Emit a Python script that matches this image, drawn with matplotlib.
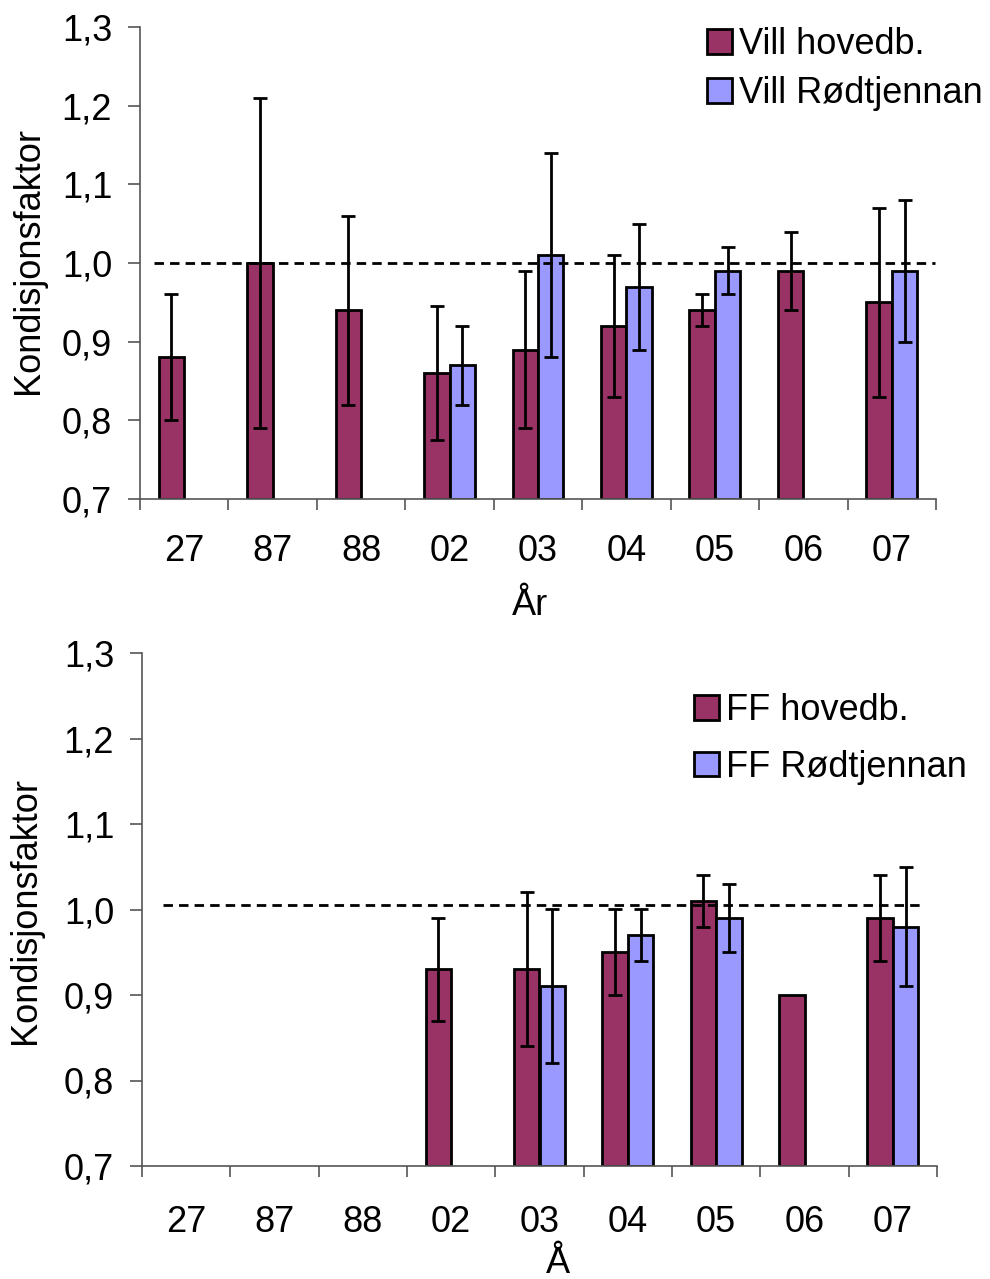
import numpy as np
import matplotlib
matplotlib.use("Agg")
import matplotlib.pyplot as plt
from matplotlib.ticker import FixedLocator, FuncFormatter

plt.rcParams['font.family'] = ['Liberation Sans', 'DejaVu Sans']

nan = np.nan
years = ['27', '87', '88', '02', '03', '04', '05', '06', '07']

# Top panel: wild fish
vill_hoved = [0.88, 1.00, 0.94, 0.86, 0.89, 0.92, 0.94, 0.99, 0.95]
vill_hoved_lo = [0.80, 0.79, 0.82, 0.775, 0.79, 0.83, 0.92, 0.94, 0.83]
vill_hoved_hi = [0.96, 1.21, 1.06, 0.945, 0.99, 1.01, 0.96, 1.04, 1.07]
vill_rodt = [nan, nan, nan, 0.87, 1.01, 0.97, 0.99, nan, 0.99]
vill_rodt_lo = [nan, nan, nan, 0.82, 0.88, 0.89, 0.96, nan, 0.90]
vill_rodt_hi = [nan, nan, nan, 0.92, 1.14, 1.05, 1.02, nan, 1.08]
vill_ref = 1.0

# Bottom panel: FF
ff_hoved = [nan, nan, nan, 0.93, 0.93, 0.95, 1.01, 0.90, 0.99]
ff_hoved_lo = [nan, nan, nan, 0.87, 0.84, 0.90, 0.98, nan, 0.94]
ff_hoved_hi = [nan, nan, nan, 0.99, 1.02, 1.00, 1.04, nan, 1.04]
ff_rodt = [nan, nan, nan, nan, 0.91, 0.97, 0.99, nan, 0.98]
ff_rodt_lo = [nan, nan, nan, nan, 0.82, 0.94, 0.95, nan, 0.91]
ff_rodt_hi = [nan, nan, nan, nan, 1.00, 1.00, 1.03, nan, 1.05]
ff_ref = 1.005

C_HOVED = '#993366'
C_RODT = '#9999FF'
FS = 26
W = 0.288
YMIN, YMAX = 0.7, 1.3

fig = plt.figure(figsize=(9.9, 12.79), dpi=100)


def draw_series(ax, xs, vals, lo, hi, color, label):
    vals = np.asarray(vals, float)
    lo = np.asarray(lo, float)
    hi = np.asarray(hi, float)
    m = ~np.isnan(vals)
    ax.bar(xs[m], vals[m] - YMIN, bottom=YMIN, width=W, color=color,
           edgecolor='black', linewidth=2.0, label=label, zorder=2)
    me = m & ~np.isnan(lo)
    yerr = np.vstack([vals[me] - lo[me], hi[me] - vals[me]])
    ax.errorbar(xs[me], vals[me], yerr=yerr, fmt='none', ecolor='black',
                elinewidth=2.0, capsize=5.0, capthick=2.0, zorder=3)


def panel(rect, h, hlo, hhi, r, rlo, rhi, ref, ref_x, labels,
          leg_anchor, leg_spacing, xpad):
    ax = fig.add_axes(rect)
    x = np.arange(len(years))
    draw_series(ax, x - W / 2, h, hlo, hhi, C_HOVED, labels[0])
    draw_series(ax, x + W / 2, r, rlo, rhi, C_RODT, labels[1])
    ax.plot(ref_x, [ref, ref], color='black', lw=2.0, ls=(0, (3.4, 2.2)), zorder=4)
    ax.set_xlim(-0.5, len(years) - 0.5)
    ax.set_ylim(YMIN, YMAX)
    for s in ('top', 'right'):
        ax.spines[s].set_visible(False)
    for s in ('left', 'bottom'):
        ax.spines[s].set_color('#555555')
        ax.spines[s].set_linewidth(1.2)
    ax.set_yticks(np.arange(0.7, 1.31, 0.1))
    ax.yaxis.set_major_formatter(FuncFormatter(lambda v, p: f"{v:.1f}".replace('.', ',')))
    ax.tick_params(axis='y', direction='out', length=9, width=1.2,
                   color='#555555', labelsize=FS, pad=11)
    ax.xaxis.set_major_locator(FixedLocator(np.arange(-0.5, len(years), 1.0)))
    ax.xaxis.set_minor_locator(FixedLocator(x))
    ax.set_xticklabels([''] * (len(years) + 1), minor=False)
    ax.set_xticklabels(years, minor=True)
    ax.tick_params(axis='x', which='major', direction='out', length=8,
                   width=1.2, color='#555555')
    ax.tick_params(axis='x', which='minor', length=0, labelsize=FS, pad=xpad)
    ax.legend(loc='upper left', bbox_to_anchor=leg_anchor,
              bbox_transform=fig.transFigure, frameon=False, fontsize=FS,
              handlelength=0.68, handleheight=0.68, handletextpad=0.2,
              labelspacing=leg_spacing, borderpad=0, borderaxespad=0)
    return ax


ax1 = panel([140 / 990, 1 - 499 / 1279, 796 / 990, 472 / 1279],
            vill_hoved, vill_hoved_lo, vill_hoved_hi,
            vill_rodt, vill_rodt_lo, vill_rodt_hi, vill_ref, [-0.34, 8.49],
            ['Vill hovedb.', 'Vill Rødtjennan'],
            (707 / 990, 1 - 27 / 1279), 0.40, 25)
ax2 = panel([142 / 990, 1 - 1166 / 1279, 795 / 990, 513 / 1279],
            ff_hoved, ff_hoved_lo, ff_hoved_hi,
            ff_rodt, ff_rodt_lo, ff_rodt_hi, ff_ref, [-0.26, 8.34],
            ['FF hovedb.', 'FF Rødtjennan'],
            (694 / 990, 1 - 693 / 1279), 0.60, 28)

fig.text(28.5 / 990, 1 - 261 / 1279, 'Kondisjonsfaktor', rotation=90,
         ha='center', va='center', fontsize=FS)
fig.text(26 / 990, 1 - 911 / 1279, 'Kondisjonsfaktor', rotation=90,
         ha='center', va='center', fontsize=FS)
fig.text(530 / 990, 1 - 588 / 1279, 'År', ha='center', va='top', fontsize=FS)
fig.text(558 / 990, 1 - 1246 / 1279, 'Å', ha='center', va='top', fontsize=FS)

fig.savefig('out.png', dpi=100)
